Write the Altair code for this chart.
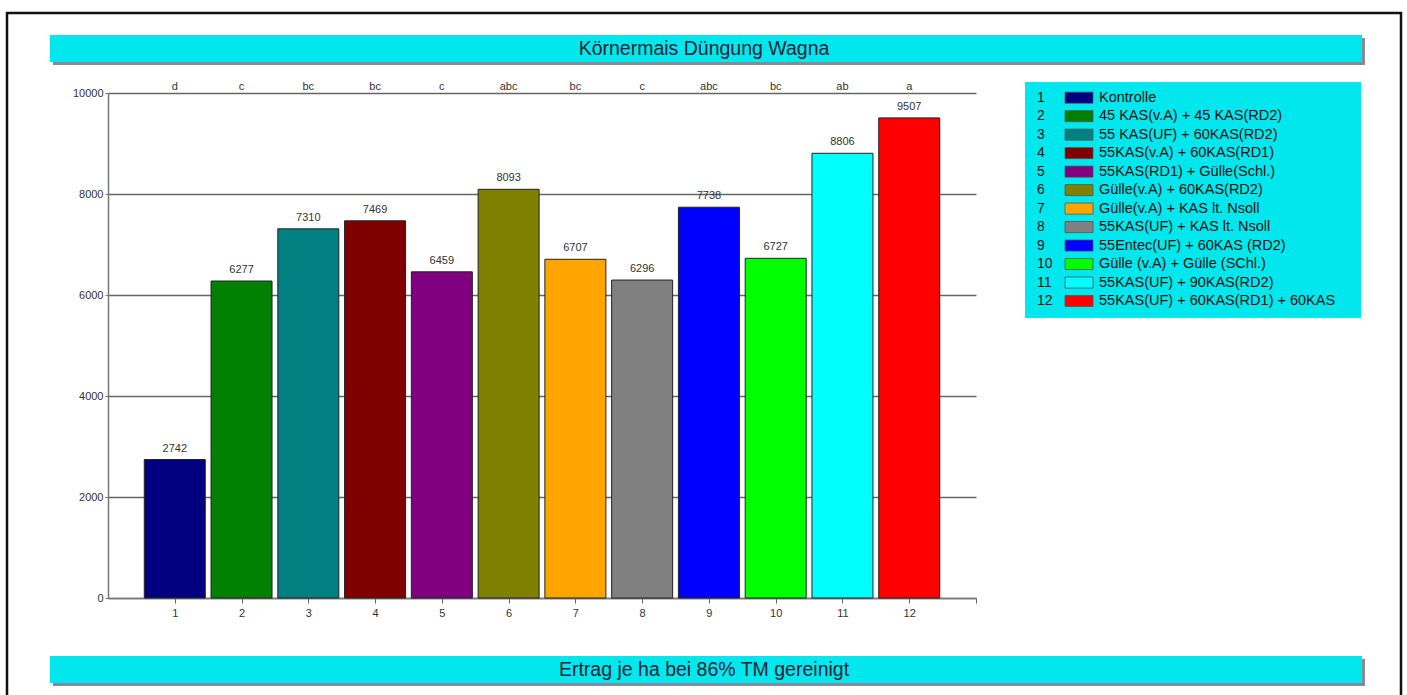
import altair as alt
import pandas as pd

FONT = "Liberation Sans"

# Treatments, yields (kg/ha) and significance letters
variants = list(range(1, 13))
yields = [2742, 6277, 7310, 7469, 6459, 8093, 6707, 6296, 7738, 6727, 8806, 9507]
letters = ["d", "c", "bc", "bc", "c", "abc", "bc", "c", "abc", "bc", "ab", "a"]
names = [
    "Kontrolle",
    "45 KAS(v.A) + 45 KAS(RD2)",
    "55 KAS(UF) + 60KAS(RD2)",
    "55KAS(v.A) + 60KAS(RD1)",
    "55KAS(RD1) + Gülle(Schl.)",
    "Gülle(v.A) + 60KAS(RD2)",
    "Gülle(v.A) + KAS lt. Nsoll",
    "55KAS(UF) + KAS lt. Nsoll",
    "55Entec(UF) + 60KAS (RD2)",
    "Gülle (v.A) + Gülle (SChl.)",
    "55KAS(UF) + 90KAS(RD2)",
    "55KAS(UF) + 60KAS(RD1) + 60KAS",
]
colors = ["#000080", "#008000", "#008080", "#800000", "#800080", "#808000",
          "#FFA500", "#808080", "#0000FF", "#00FF00", "#00FFFF", "#FF0000"]

title_text = "Körnermais Düngung Wagna"
footer_text = "Ertrag je ha bei 86% TM gereinigt"

df = pd.DataFrame({"nr": variants, "ertrag": yields, "sig": letters,
                   "name": names, "farbe": colors})

one = pd.DataFrame({"a": [0]})

color_enc = alt.Color("nr:O", scale=alt.Scale(domain=variants, range=colors), legend=None)
x_scale = alt.Scale(domain=[0, 13], nice=False, padding=0, zero=False)
x_axis = alt.Axis(values=variants + [13], title=None, grid=False, labelFont=FONT,
                  labelFontSize=11, labelColor="#333", tickColor="#666",
                  tickSize=5, domainColor="#777", domainWidth=1.5, labelPadding=4,
                  labelFlush=False, format="d",
                  labelExpr="datum.value == 13 ? '' : datum.label")
x_enc = alt.X("nr:Q", scale=x_scale, axis=x_axis)
y_scale = alt.Scale(domain=[0, 10000], nice=False, padding=0)
y_enc = alt.Y("ertrag:Q", scale=y_scale,
              axis=alt.Axis(values=[0, 2000, 4000, 6000, 8000, 10000], title=None,
                            grid=True, gridColor="#666", gridWidth=1.3, labelFont=FONT,
                            labelFontSize=11, labelColor="#333", tickColor="#777",
                            tickSize=3, domainColor="#777", domainWidth=1.5,
                            labelPadding=2, format="d"))

# frame and banner boxes
def box(x1, x2, y1, y2, fill, stroke=None, sw=0):
    kw = {"fill": fill}
    if stroke:
        kw.update(stroke=stroke, strokeWidth=sw)
    return alt.Chart(one).mark_rect(**kw).encode(
        x=alt.value(x1), x2=alt.value(x2), y=alt.value(y1), y2=alt.value(y2))

frame = box(-101, 1293, -80, 606, "transparent", "#111", 2.5)
title_shadow = box(-55, 1257, -55, -28, "#8a8a96")
title_bar = box(-58, 1254, -58, -31, "#00E8EE")
footer_shadow = box(-55, 1257, 566, 593, "#8a8a96")
footer_bar = box(-58, 1254, 563, 590, "#00E8EE")
legend_box = box(917, 1253, -11, 225, "#00E8EE")

title = alt.Chart(one).mark_text(font=FONT, fontSize=19.5, color="#1c2235",
                                 baseline="middle").encode(
    x=alt.value(596), y=alt.value(-44), text=alt.value(title_text))
footer = alt.Chart(one).mark_text(font=FONT, fontSize=19.5, color="#1c2235",
                                  baseline="middle").encode(
    x=alt.value(596), y=alt.value(577), text=alt.value(footer_text))

bars = alt.Chart(df).mark_bar(size=61, stroke="#222", strokeWidth=1).encode(
    x=x_enc, y=y_enc, color=color_enc)

values = alt.Chart(df).mark_text(font=FONT, fontSize=11, color="#333",
                                 baseline="bottom", dy=-6).encode(
    x=x_enc,
    y=alt.Y("ertrag:Q", scale=y_scale, axis=None),
    text="ertrag:Q")

sig = alt.Chart(df).mark_text(font=FONT, fontSize=11, color="#333",
                              baseline="middle").encode(
    x=x_enc, y=alt.value(-6), text="sig:N")

# custom legend rows
leg_scale = alt.Scale(domain=[1, 12], range=[4.7, 208], nice=False, zero=False)
leg_base = alt.Chart(df).transform_calculate(lo="datum.nr - 0.3", hi="datum.nr + 0.3")
leg_swatch = leg_base.mark_rect(stroke="#555", strokeWidth=0.8).encode(
    x=alt.value(957), x2=alt.value(985),
    y=alt.Y("lo:Q", scale=leg_scale, axis=None), y2="hi:Q", color=color_enc)
leg_num = alt.Chart(df).mark_text(font=FONT, fontSize=14, color="#111", align="left",
                                  baseline="middle").encode(
    x=alt.value(929), y=alt.Y("nr:Q", scale=leg_scale, axis=None), text="nr:Q")
leg_name = alt.Chart(df).mark_text(font=FONT, fontSize=14.5, color="#111", align="left",
                                   baseline="middle").encode(
    x=alt.value(991), y=alt.Y("nr:Q", scale=leg_scale, axis=None), text="name:N")

chart = alt.layer(
    frame, title_shadow, title_bar, footer_shadow, footer_bar, legend_box,
    title, footer, bars, values, sig, leg_swatch, leg_num, leg_name,
).resolve_scale(y="independent").properties(
    width=868, height=505,
    padding={"left": 108, "top": 93, "right": 431, "bottom": 97},
    autosize=alt.AutoSizeParams(type="none"),
    background="white",
).configure_view(stroke=None)

chart.save("out.html", embed_options={"renderer": "svg", "actions": False})
